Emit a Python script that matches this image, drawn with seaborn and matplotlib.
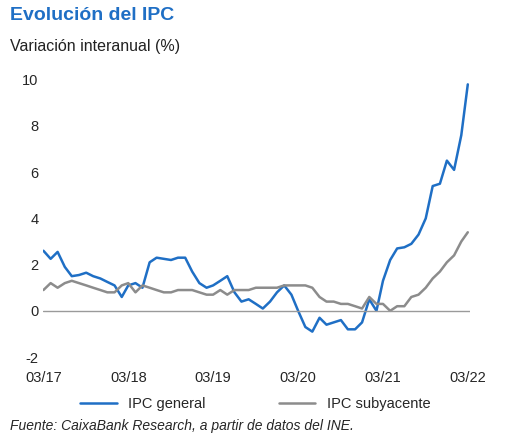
import matplotlib
matplotlib.use("Agg")
import matplotlib.pyplot as plt
import seaborn as sns
import pandas as pd
from matplotlib.lines import Line2D

dates = pd.date_range("2017-03-01", "2022-03-01", freq="MS")
ipc_general = [2.6, 2.25, 2.55, 1.9, 1.5, 1.55, 1.65, 1.5, 1.4, 1.25, 1.1, 0.6,
               1.1, 1.2, 1.0, 2.1, 2.3, 2.25, 2.2, 2.3, 2.3, 1.7, 1.2, 1.0,
               1.1, 1.3, 1.5, 0.8, 0.4, 0.5, 0.3, 0.1, 0.4, 0.8, 1.1,
               0.7, 0.0, -0.7, -0.9, -0.3, -0.6, -0.5, -0.4, -0.8, -0.8, -0.5, 0.5,
               0.0, 1.3, 2.2, 2.7, 2.75, 2.9, 3.3, 4.0, 5.4, 5.5, 6.5, 6.1, 7.6, 9.8]
ipc_subyacente = [0.9, 1.2, 1.0, 1.2, 1.3, 1.2, 1.1, 1.0, 0.9, 0.8, 0.8, 1.1,
                  1.2, 0.8, 1.1, 1.0, 0.9, 0.8, 0.8, 0.9, 0.9, 0.9, 0.8, 0.7,
                  0.7, 0.9, 0.7, 0.9, 0.9, 0.9, 1.0, 1.0, 1.0, 1.0, 1.1, 1.1,
                  1.1, 1.1, 1.0, 0.6, 0.4, 0.4, 0.3, 0.3, 0.2, 0.1, 0.6, 0.3,
                  0.3, 0.0, 0.2, 0.2, 0.6, 0.7, 1.0, 1.4, 1.7, 2.1, 2.4, 3.0, 3.4]
df = pd.DataFrame({"fecha": dates, "IPC general": ipc_general,
                   "IPC subyacente": ipc_subyacente})
long = df.melt("fecha", var_name="serie", value_name="valor")

sns.set_style("white")
plt.rcParams['font.family'] = ['Liberation Sans', 'DejaVu Sans']
plt.rcParams['axes.unicode_minus'] = False
fig = plt.figure(figsize=(5.11, 4.43), dpi=100)
ax = fig.add_axes([0.085, 0.194, 0.835, 0.626])
sns.lineplot(data=long, x="fecha", y="valor", hue="serie",
             palette={"IPC general": "#1f6fc5", "IPC subyacente": "#8c8c8c"},
             linewidth=1.8, ax=ax, legend=False)
ax.set_ylim(-2, 10)
ax.set_yticks(range(-2, 11, 2))
ax.set_xlim(dates[0], dates[-1] + pd.Timedelta(days=10))
ticks = pd.date_range("2017-03-01", "2022-03-01", freq="12MS")
ax.set_xticks(ticks)
ax.set_xticklabels([d.strftime("%m/%y") for d in ticks])
ax.axhline(0, color="#9a9a9a", lw=1)
for s in ["top", "right", "left", "bottom"]:
    ax.spines[s].set_visible(False)
ax.tick_params(axis="both", labelsize=10.5, length=0)
ax.tick_params(axis="x", pad=10)
ax.set_xlabel(""); ax.set_ylabel("")

fig.text(0.02, 0.955, "Evolución del IPC", fontsize=14, fontweight="bold", color="#1f6fc5")
fig.text(0.02, 0.885, "Variación interanual (%)", fontsize=11.5, color="#222222")
h = [Line2D([], [], color="#1f6fc5", lw=1.8), Line2D([], [], color="#8c8c8c", lw=1.8)]
fig.legend(h, ["IPC general", "IPC subyacente"], loc="center", bbox_to_anchor=(0.5, 0.088),
           ncol=2, frameon=False, fontsize=10.5, handlelength=2.5, columnspacing=5)
fig.text(0.02, 0.03, "Fuente: CaixaBank Research, a partir de datos del INE.",
         fontsize=10, style="italic")
fig.savefig("out.png", dpi=100)
